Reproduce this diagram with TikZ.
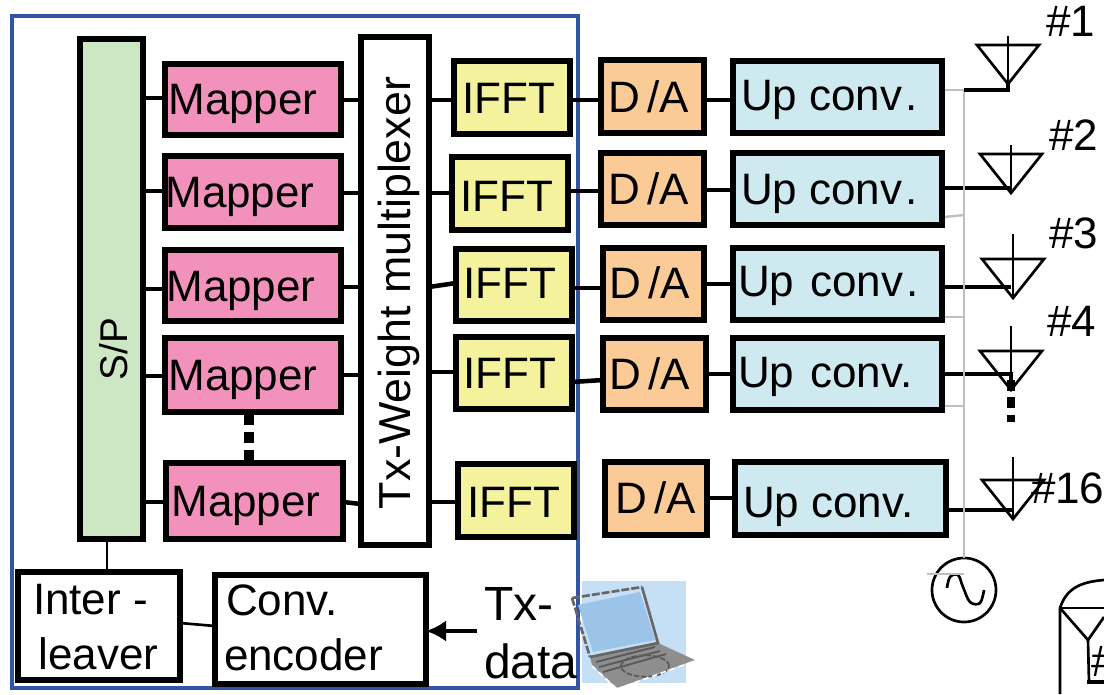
\documentclass[tikz,border=0pt]{standalone}
\usepackage{fontspec}
\setmainfont{Liberation Sans}
\usetikzlibrary{arrows.meta}
\definecolor{mapc}{HTML}{F291BC}
\definecolor{spc}{HTML}{CDE6C4}
\definecolor{ifftc}{HTML}{F4F29C}
\definecolor{dac}{HTML}{FBCB97}
\definecolor{upc}{HTML}{CEEAF0}
\definecolor{framec}{HTML}{3353A4}
\definecolor{lanc}{HTML}{C5DFF4}
\definecolor{scrc}{HTML}{9CC3E8}
\definecolor{pcg}{HTML}{8E8E8E}
\tikzset{x=0.75pt,y=-0.75pt,
 every node/.style={inner sep=0pt,outer sep=0pt,font=\fontsize{33}{36}\selectfont,text=black},
 blk/.style={draw=black,line width=3.8pt,anchor=center},
 wire/.style={draw=black,line width=3.4pt},
 thin wire/.style={draw=black,line width=2pt},
 lo/.style={draw=black!25,line width=1.8pt},
 ant/.style={draw=black,line width=2pt,line join=miter},
 dots/.style={draw=black,line width=7pt,dash pattern=on 8pt off 5.5pt},
 lab/.style={anchor=base west,font=\fontsize{33}{36}\selectfont},
 two/.style={align=left,anchor=west,font=\fontsize{33}{41}\selectfont},
}
\newcommand{\bx}[6]{% name x1 y1 x2 y2 fill
 \pgfmathsetmacro{\bw}{(#4-#2-4)*0.75}\pgfmathsetmacro{\bh}{(#5-#3-4)*0.75}
 \node[blk,fill=#6,minimum width=\bw pt,minimum height=\bh pt] (#1) at ({(#2+#4)/2},{(#3+#5)/2}) {};}
\newcommand{\antn}[4]{% name apex-x apex-y mast-height
 \coordinate (#1tip) at (#2,#3);
 \coordinate (#1top) at (#2,{#3-#4});
 \draw[ant] (#2,#3) -- ({#2-31},{#3-39}) -- ({#2+31},{#3-39}) -- cycle;
 \draw[ant] (#1top) -- (#2,#3);}
\begin{document}
\begin{tikzpicture}
\useasboundingbox (0,0) rectangle (1104,694);
% LO line
\coordinate (loT) at (964,90);
\coordinate (loB) at (964,553);
\draw[lo] (944,90) -- (loT) -- (loB);
\draw[lo] (944,217) -- (964,215);
\draw[lo] (944,317) -- (964,317);
\draw[lo] (944,406) -- (964,406);
% laptop background
\node[fill=lanc,minimum width=78pt,minimum height=76pt] (lan) at (634,632) {};
% frame
\node[draw=framec,line width=3.4pt,minimum width=424.5pt,minimum height=504pt] (frame) at (295,352) {};
% S/P
\bx{sp}{78}{37}{145}{541}{spc}
\node[rotate=90,font=\fontsize{29}{32}\selectfont] (sptxt) at (114,349) {S/P};
% mappers
\bx{m1}{163}{62}{343}{137}{mapc}\node (mt1) at (243,104) {Mapper};
\bx{m2}{163}{154}{343}{230}{mapc}\node (mt2) at (240,197) {Mapper};
\bx{m3}{163}{248}{343}{323}{mapc}\node (mt3) at (241,291) {Mapper};
\bx{m4}{163}{336}{343}{414}{mapc}\node (mt4) at (243,380) {Mapper};
\bx{m5}{164}{461}{345}{541}{mapc}\node (mt5) at (246,506) {Mapper};
% weight mux
\bx{tw}{359}{35}{431}{547}{white}
\node[rotate=90,font=\fontsize{33.6}{36}\selectfont] (twt) at (399,293) {Tx-Weight multiplexer};
% IFFT
\bx{i1}{452}{59}{572}{136}{ifftc}\node (it1) at (509,98) {IFFT};
\bx{i2}{450}{155}{570}{232}{ifftc}\node (it2) at (507,196) {IFFT};
\bx{i3}{454}{247}{574}{323}{ifftc}\node (it3) at (510,283) {IFFT};
\bx{i4}{454}{335}{574}{411}{ifftc}\node (it4) at (510,373) {IFFT};
\bx{i5}{456}{462}{576}{539}{ifftc}\node (it5) at (514,502) {IFFT};
% D/A
\bx{d1}{599}{58}{706}{135}{dac}\node (dt1) at (648.5,97) {D\,/A};
\bx{d2}{599}{151}{706}{227}{dac}\node (dt2) at (648.5,189) {D\,/A};
\bx{d3}{601}{246}{706}{322}{dac}\node (dt3) at (649.5,283) {D\,/A};
\bx{d4}{601}{336}{708}{412}{dac}\node (dt4) at (649.5,374) {D\,/A};
\bx{d5}{603}{460}{709}{537}{dac}\node (dt5) at (655.5,498) {D\,/A};
% Up conv
\bx{u1}{731}{59}{944}{135}{upc}\node[anchor=base west] (ut1) at (741,110) {Up conv\kern2pt.};
\bx{u2}{731}{151}{944}{227}{upc}\node[anchor=base west] (ut2) at (741,204) {Up conv\kern2pt.};
\bx{u3}{731}{246}{944}{322}{upc}\node[anchor=base west] (ut3) at (738,296) {Up\kern3pt\ conv\kern2pt.};
\bx{u4}{731}{336}{944}{412}{upc}\node[anchor=base west] (ut4) at (738,387) {Up\kern3pt\ conv.};
\bx{u5}{733}{460}{948}{537}{upc}\node[anchor=base west] (ut5) at (743,517) {Up conv.};
% wires
\foreach \a/\b/\y in {sp/m1/98,sp/m2/191,sp/m3/289,sp/m4/376,sp/m5/502}{
 \draw[wire] (\a.east |- 0,\y) -- (\b.west |- 0,\y);}
\draw[wire] (m1.east |- 0,100) -- (tw.west |- 0,100);
\draw[wire] (m2.east |- 0,193) -- (tw.west |- 0,193);
\draw[wire] (m3.east |- 0,287) -- (tw.west |- 0,287);
\draw[wire] (m4.east |- 0,375) -- (tw.west |- 0,375);
\draw[wire] (m5.east |- 0,502) -- (tw.west |- 0,504);
\draw[wire] (tw.east |- 0,100) -- (i1.west |- 0,100);
\draw[wire] (tw.east |- 0,193) -- (i2.west |- 0,193);
\draw[wire] (tw.east |- 0,287) -- (i3.west |- 0,283);
\draw[wire] (tw.east |- 0,372) -- (i4.west |- 0,372);
\draw[wire] (tw.east |- 0,502) -- (i5.west |- 0,502);
\draw[wire] (i1.east |- 0,100) -- (d1.west |- 0,100);
\draw[wire] (i2.east |- 0,191) -- (d2.west |- 0,191);
\draw[wire] (i3.east |- 0,288) -- (d3.west |- 0,288);
\draw[wire] (i4.east |- 0,382) -- (d4.west |- 0,380);
\draw[wire] (d1.east |- 0,100) -- (u1.west |- 0,100);
\draw[wire] (d2.east |- 0,190) -- (u2.west |- 0,190);
\draw[wire] (d3.east |- 0,284) -- (u3.west |- 0,284);
\draw[wire] (d4.east |- 0,374) -- (u4.west |- 0,374);
\draw[wire] (d5.east |- 0,498) -- (u5.west |- 0,498);
% dots between mappers
\coordinate (dotsA) at (249,414);
\coordinate (dotsB) at (249,461);
\draw[dots] (dotsA) -- (dotsB);
% interleaver, encoder
\bx{il}{16}{570}{182}{682}{white}
\node[two] (ilt) at (33,627) {Inter -\\\hspace*{4pt}leaver};
\bx{ce}{213}{573}{428}{686}{white}
\node[two] (cet) at (224,628) {\hspace*{1.5pt}Conv.\\encoder};
\draw[thin wire] (sp.south -| 107,0) -- (il.north -| 107,0);
\draw[thin wire] (il.east |- 0,623) -- (ce.west |- 0,626);
% Tx-data
\node[lab,font=\fontsize{36}{38}\selectfont] (tx1) at (484,620) {Tx-};
\node[lab,font=\fontsize{36}{38}\selectfont] (tx2) at (484,678) {data};
\coordinate (txs) at (477,631);
\draw[line width=3.4pt,-{Latex[length=15pt,width=16pt]}] (txs) -- (ce.east |- txs);
% laptop
\fill[pcg] (590,657) -- (658,643) -- (695,660) -- (617,688) -- (592,665) -- cycle;
\fill[scrc] (578,605) -- (640,592) -- (655,640) -- (593,652) -- cycle;
\draw[black!60,line width=2pt,dash pattern=on 6pt off 1.5pt] (572,598) -- (642,587);
\draw[black!60,line width=2pt,dash pattern=on 6pt off 1.5pt] (572,598) -- (590,657);
\draw[black!60,line width=2pt] (642,587) -- (658,643) -- (590,657);
\draw[black!65,line width=1.4pt] (596,662) -- (655,647) (599,667) -- (660,651) (603,672) -- (666,654);
\draw[black!65,line width=1.3pt,dash pattern=on 4pt off 1.5pt] (645,666) ellipse (18pt and 8pt);
\draw[white,line width=1.2pt,dash pattern=on 4pt off 3pt] (617,689) -- (695,661) (592,666) -- (617,689);
% antennas
\antn{a1}{1008}{84}{48}
\antn{a2}{1011}{193}{48}
\antn{a3}{1013}{298}{64}
\antn{a4}{1011}{390}{64}
\antn{a5}{1013}{519}{62}
\node[lab] (n1) at (1046,36) {\#1};
\node[lab] (n2) at (1049,150) {\#2};
\node[lab] (n3) at (1049,248) {\#3};
\node[lab] (n4) at (1047,336) {\#4};
\node[lab] (n5) at (1031,503) {\#16};
% feeds
\draw[wire] (964,90) -- (1008,90) -- (a1tip);
\draw[wire] (u2.east |- 0,188) -- (1011,188);
\draw[wire] (u3.east |- 0,287) -- (1011,287);
\draw[wire] (u4.east |- 0,374) -- (1011,374) -- (a4tip);
\draw[wire] (u5.east |- 0,510) -- (1013,510);
\coordinate (d4a) at (1011,380);\coordinate (d4b) at (1011,422);
\draw[draw=black,line width=6.5pt,dash pattern=on 8pt off 5pt] (d4a) -- (d4b);
\draw[lo] (964,183) -- (964,193) (964,280) -- (964,292) (964,369) -- (964,379) (964,505) -- (964,515);
% oscillator
\node[draw=black,line width=2pt,circle,minimum size=48pt] (osc) at (964,590) {};
\draw[black,line width=2pt,line join=round] plot[smooth,tension=0.6] coordinates {(947,588) (950,577) (958,575) (963,587) (970,602) (980,603) (984,590)};
\draw[lo] (loB) -- (osc.north);
\coordinate (loE) at (927,574);
\draw[lo] (loE) -- (964,574);
% partial antenna at the lower right
\coordinate (p1) at (1060,694);\coordinate (p2) at (1060,608);\coordinate (p3) at (1104,580);\coordinate (p4) at (1088,640);
\draw[ant] (p1) -- (p2) .. controls (1066,590) and (1078,582) .. (p3);
\draw[ant] (p2) -- (1104,608);
\draw[ant] (p2) -- (p4) -- (1104,617);
\draw[ant] (p4) -- (1089,682);
\draw[wire] (1087,682) -- (1104,682);
\node[lab] (n6) at (1091,676) {\#};
\end{tikzpicture}
\end{document}
